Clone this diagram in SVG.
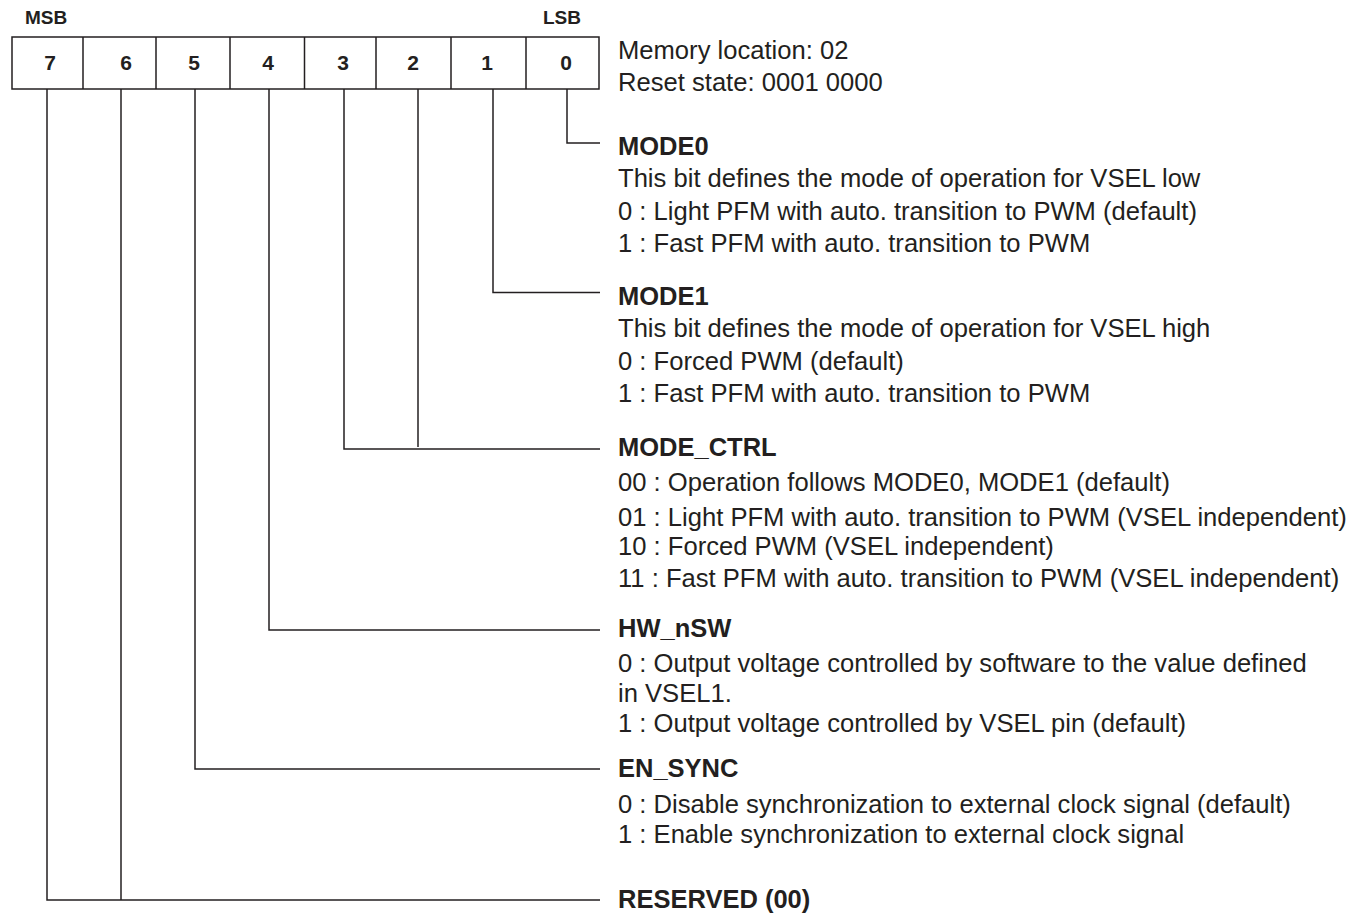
<svg xmlns="http://www.w3.org/2000/svg" width="1368" height="918" viewBox="0 0 1368 918">
<style>
text{font-family:"Liberation Sans",Arial,sans-serif;fill:#231f20}
.h{font-weight:bold;font-size:25.5px}
.b{font-size:25.6px}
.n{font-weight:bold;font-size:21px;text-anchor:middle}
.s{font-weight:bold;font-size:19px}
.ln{fill:none;stroke:#231f20;stroke-width:1.5}
</style>
<rect width="1368" height="918" fill="#fff"/>
<g id="register">
<text class="s" x="25" y="24">MSB</text>
<text class="s" x="543" y="24">LSB</text>
<rect class="ln" x="12" y="37" width="587" height="52"/>
<path class="ln" d="M83 37V89M156 37V89M230 37V89M304.5 37V89M376 37V89M451 37V89M526 37V89"/>
<text class="n" x="50" y="70">7</text>
<text class="n" x="126" y="70">6</text>
<text class="n" x="194" y="70">5</text>
<text class="n" x="268" y="70">4</text>
<text class="n" x="343" y="70">3</text>
<text class="n" x="413" y="70">2</text>
<text class="n" x="487" y="70">1</text>
<text class="n" x="566" y="70">0</text>
</g>
<g id="info">
<text class="b" x="618" y="59">Memory location: 02</text>
<text class="b" x="618" y="91">Reset state: 0001 0000</text>
</g>
<g id="connectors">
<path class="ln" d="M567 89V143H600"/>
<path class="ln" d="M493 89V292.5H600"/>
<path class="ln" d="M344 89V449H600"/>
<path class="ln" d="M418 89V447"/>
<path class="ln" d="M269 89V630H600"/>
<path class="ln" d="M195 89V769H600"/>
<path class="ln" d="M47 89V900H600"/>
<path class="ln" d="M121 89V900"/>
</g>
<g id="mode0">
<text class="h" x="618" y="155">MODE0</text>
<text class="b" x="618" y="187">This bit defines the mode of operation for VSEL low</text>
<text class="b" x="618" y="220">0 : Light PFM with auto. transition to PWM (default)</text>
<text class="b" x="618" y="252">1 : Fast PFM with auto. transition to PWM</text>
</g>
<g id="mode1">
<text class="h" x="618" y="305">MODE1</text>
<text class="b" x="618" y="337">This bit defines the mode of operation for VSEL high</text>
<text class="b" x="618" y="370">0 : Forced PWM (default)</text>
<text class="b" x="618" y="402">1 : Fast PFM with auto. transition to PWM</text>
</g>
<g id="mode_ctrl">
<text class="h" x="618" y="456">MODE_CTRL</text>
<text class="b" x="618" y="491">00 : Operation follows MODE0, MODE1 (default)</text>
<text class="b" x="618" y="526">01 : Light PFM with auto. transition to PWM (VSEL independent)</text>
<text class="b" x="618" y="555">10 : Forced PWM (VSEL independent)</text>
<text class="b" x="618" y="587">11 : Fast PFM with auto. transition to PWM (VSEL independent)</text>
</g>
<g id="hw_nsw">
<text class="h" x="618" y="637">HW_nSW</text>
<text class="b" x="618" y="672">0 : Output voltage controlled by software to the value defined</text>
<text class="b" x="618" y="702">in VSEL1.</text>
<text class="b" x="618" y="732">1 : Output voltage controlled by VSEL pin (default)</text>
</g>
<g id="en_sync">
<text class="h" x="618" y="777">EN_SYNC</text>
<text class="b" x="618" y="813">0 : Disable synchronization to external clock signal (default)</text>
<text class="b" x="618" y="843">1 : Enable synchronization to external clock signal</text>
</g>
<g id="reserved">
<text class="h" x="618" y="908">RESERVED (00)</text>
</g>
</svg>
